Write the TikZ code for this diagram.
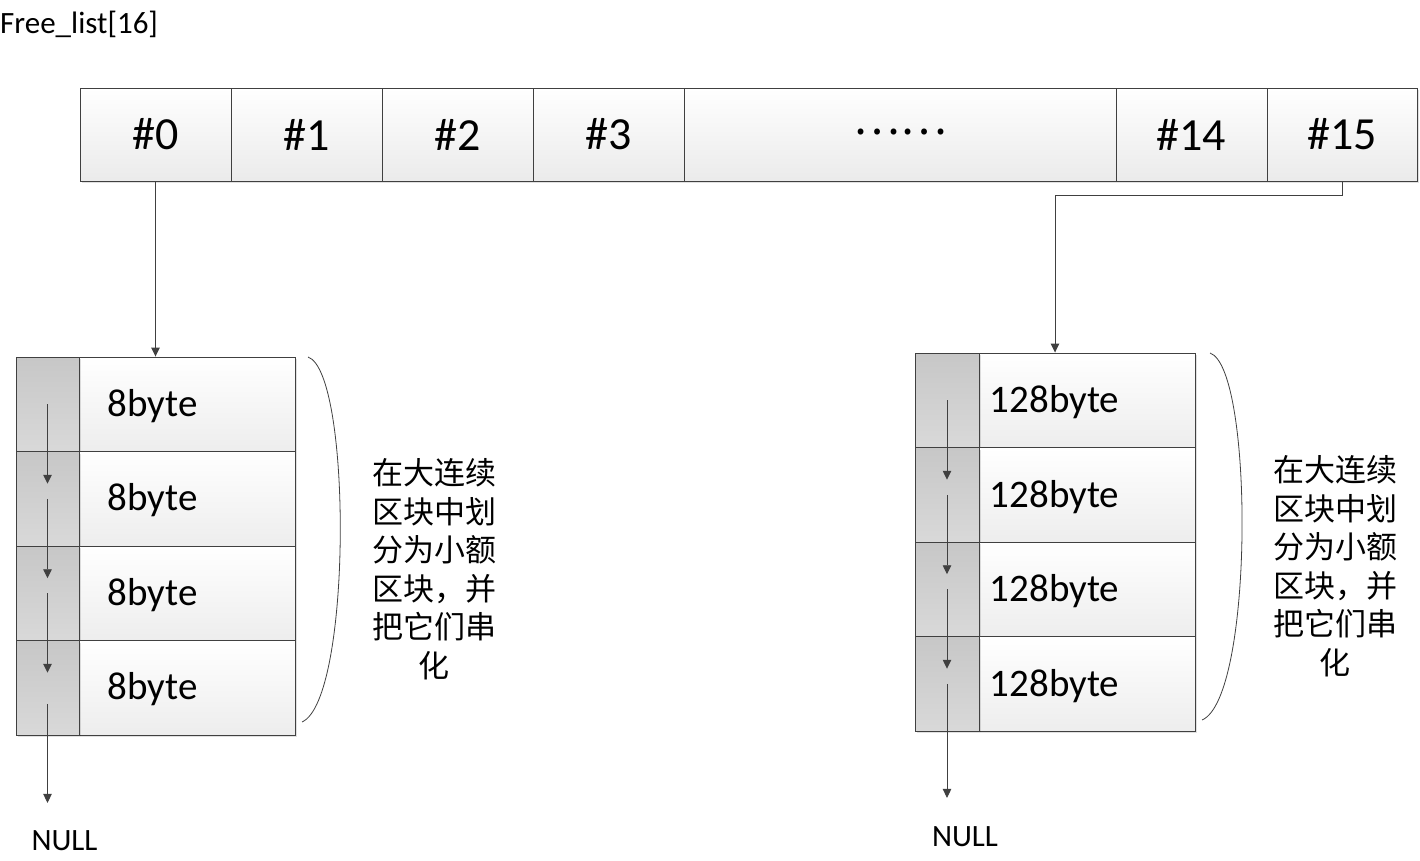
\documentclass[tikz,border=0pt]{standalone}
\usepackage{fontspec}
\setmainfont{Carlito}
\newfontfamily\cjk{Noto Sans CJK SC}
\usetikzlibrary{arrows.meta,calc,shadows}
\definecolor{ln}{HTML}{404040}
\tikzset{
 shd/.style={drop shadow={shadow xshift=2pt, shadow yshift=-2pt, fill=black, opacity=0.12}},
 cell/.style={shd, draw=ln, line width=0.9pt, top color=white, bottom color=black!8, inner sep=0pt, minimum height=93pt, font=\fontsize{46}{50}\selectfont},
 gcell/.style={shd, draw=ln, line width=0.9pt, top color=black!22, bottom color=black!15, inner sep=0pt, minimum height=94.5pt},
 dcell/.style={shd, draw=ln, line width=0.9pt, top color=white, bottom color=black!7, inner sep=0pt, minimum width=216pt, minimum height=94.5pt},
 arr/.style={draw=ln, line width=0.9pt, -{Triangle[length=9pt,width=8.5pt]}},
 bytelbl/.style={anchor=base west, inner sep=0pt, font=\fontsize{39}{44}\selectfont},
 note/.style={align=center, font=\cjk\fontsize{31}{38.5}\selectfont, inner sep=0pt},
 nulllbl/.style={anchor=base, inner sep=0pt, font=\fontsize{31}{36}\selectfont},
 brace/.style={draw=ln, line width=0.8pt},
}
\begin{document}
\begin{tikzpicture}[x=1pt,y=-1pt]
\useasboundingbox (0,0) rectangle (1420,861);
\node[anchor=base west, inner sep=0pt, font=\fontsize{31}{36}\selectfont] (title) at (0,34) {Free\_list[16]};
% top array
\node[cell, minimum width=151pt] (c0) at (155.5,134.5) {\#0};
\node[cell, minimum width=151pt] (c1) at (306.5,134.5) {\#1};
\node[cell, minimum width=151pt] (c2) at (457.5,134.5) {\#2};
\node[cell, minimum width=151pt] (c3) at (608.5,134.5) {\#3};
\node[cell, minimum width=432pt] (cd) at (900,134.5) {};
\node[font=\cjk\fontsize{44}{48}\selectfont, inner sep=0pt] (dots) at (900,132) {……};
\node[cell, minimum width=151pt] (c14) at (1191.5,134.5) {\#14};
\node[cell, minimum width=150pt] (c15) at (1342,134.5) {\#15};
% left stack
\foreach \i/\y in {1/404.25,2/498.75,3/593.25,4/687.75}{
  \node[dcell] (D\i) at (187,\y) {};
  \node[gcell, minimum width=63pt] (G\i) at (47.5,\y) {};
  \node[bytelbl] (T\i) at ([xshift=29pt,yshift=-12pt]D\i.west) {8byte};
}
% right stack
\foreach \i/\y in {1/400.25,2/494.75,3/589.25,4/683.75}{
  \node[dcell] (RD\i) at (1087,\y) {};
  \node[gcell, minimum width=64pt] (RG\i) at (947,\y) {};
  \node[bytelbl] (RT\i) at ([xshift=11pt,yshift=-12.5pt]RD\i.west) {128byte};
}
\coordinate (Ltop) at ($(G1.north west)!0.5!(D1.north east)$);
\coordinate (Rtop) at ($(RG1.north west)!0.5!(RD1.north east)$);
% NULL labels
\node[nulllbl] (NL) at (64.5,850) {NULL};
\node[nulllbl] (NR) at (965,846) {NULL};
% top connectors
\draw[arr] (c0.south) -- (c0.south |- Ltop);
\draw[arr] (c15.south) -- ++(0,14) -| (Rtop);
% inner chains left
\draw[arr] (G1.center) -- ([yshift=15pt]G2.center);
\draw[arr] (G2.center) -- ([yshift=15pt]G3.center);
\draw[arr] (G3.center) -- ([yshift=15pt]G4.center);
\draw[arr, shorten >=27pt] ([yshift=-16pt]G4.center) -- (G4.center |- NL.north);
% inner chains right
\draw[arr] (RG1.center) -- ([yshift=15pt]RG2.center);
\draw[arr] (RG2.center) -- ([yshift=15pt]RG3.center);
\draw[arr] (RG3.center) -- ([yshift=15pt]RG4.center);
\draw[arr, shorten >=28pt] (RG4.center) -- (RG4.center |- NR.north);
% braces
\draw[brace] (308,357) .. controls (352,372) and (352,700) .. (302,722);
\draw[brace] (1210,353) .. controls (1254,368) and (1254,698) .. (1202,720);
% notes
\node[note] (noteL) at (434,569) {在大连续\\区块中划\\分为小额\\区块，并\\把它们串\\化};
\node[note] (noteR) at (1335,566) {在大连续\\区块中划\\分为小额\\区块，并\\把它们串\\化};
\end{tikzpicture}
\end{document}
